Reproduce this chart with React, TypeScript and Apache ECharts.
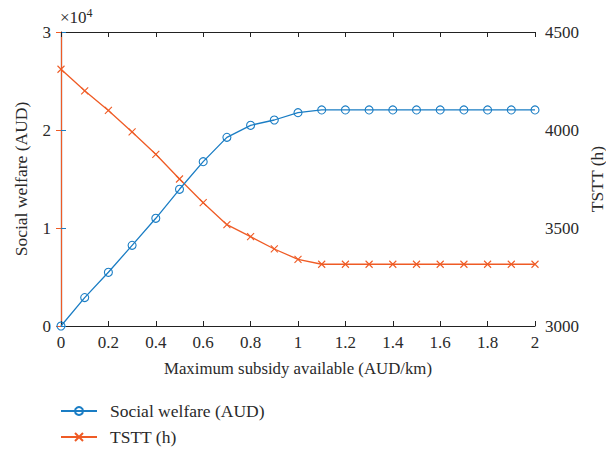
import React, { useEffect, useRef } from "react";
import * as echarts from "echarts";

const subsidy = [0, 0.1, 0.2, 0.3, 0.4, 0.5, 0.6, 0.7, 0.8, 0.9, 1.0, 1.1, 1.2, 1.3, 1.4, 1.5, 1.6, 1.7, 1.8, 1.9, 2.0];
const welfare = [0, 2900, 5480, 8230, 10990, 13950, 16770, 19250, 20480, 21020, 21770, 22050, 22050, 22050, 22050, 22050, 22050, 22050, 22050, 22050, 22050];
const tstt = [4310, 4200, 4100, 3990, 3876, 3750, 3629, 3517, 3456, 3393, 3340, 3315, 3315, 3315, 3315, 3315, 3315, 3315, 3315, 3315, 3315];

const BLUE = "#1A7DC4";
const ORANGE = "#EF5B25";
const FONT = "'Liberation Serif', 'DejaVu Serif', serif";
const TXT = "#2a2a2a";

export default function App() {
  const ref = useRef<HTMLDivElement>(null);
  useEffect(() => {
    const chart = echarts.init(ref.current!, null, { renderer: "svg" });
    const tickStyle = { fontFamily: FONT, fontSize: 17, color: TXT };
    const nameStyle = { fontFamily: FONT, fontSize: 17.5, color: TXT };
    const legendBase = {
      orient: "horizontal",
      left: 60,
      padding: 0,
      itemWidth: 36,
      itemHeight: 10,
      textStyle: { fontFamily: FONT, fontSize: 17.5, color: TXT, padding: [0, 0, 0, 8] },
    };
    chart.setOption({
      animation: false,
      backgroundColor: "#fff",
      textStyle: { fontFamily: FONT },
      grid: { left: 61, right: 71, top: 32, bottom: 123, containLabel: false, outerBoundsMode: "none" },
      graphic: [
        {
          type: "text",
          left: 60,
          top: 7,
          style: {
            text: "{a|×10}{b|4}",
            rich: {
              a: { fontFamily: FONT, fontSize: 17, fill: TXT },
              b: { fontFamily: FONT, fontSize: 12, fill: TXT, verticalAlign: "top", padding: [0, 0, 9, 0] },
            },
          },
        },
      ],
      legend: [
        { ...legendBase, top: 402, data: ["Social welfare (AUD)"] },
        { ...legendBase, top: 428, data: ["TSTT (h)"] },
      ],
      xAxis: [
        {
          type: "value",
          min: 0,
          max: 2,
          interval: 0.2,
          name: "Maximum subsidy available (AUD/km)",
          nameLocation: "middle",
          nameGap: 34,
          nameTextStyle: { ...nameStyle, fontSize: 16.8 },
          axisLine: { show: true, lineStyle: { color: "#222", width: 1.2 } },
          axisTick: { show: true, inside: true, length: 5, lineStyle: { color: "#222" } },
          axisLabel: { ...tickStyle, margin: 8 },
          splitLine: { show: false },
        },
        {
          type: "value",
          position: "top",
          min: 0,
          max: 2,
          interval: 0.2,
          axisLine: { show: true, lineStyle: { color: "#222", width: 1.2 } },
          axisTick: { show: true, inside: true, length: 5, lineStyle: { color: "#222" } },
          axisLabel: { show: false },
          splitLine: { show: false },
        },
      ],
      yAxis: [
        {
          type: "value",
          position: "left",
          min: 0,
          max: 30000,
          interval: 10000,
          name: "Social welfare (AUD)",
          nameLocation: "middle",
          nameGap: 31,
          nameRotate: 90,
          nameMoveOverlap: false,
          nameTextStyle: nameStyle,
          axisLine: { show: true, lineStyle: { color: BLUE, width: 1.2 } },
          axisTick: { show: true, inside: true, length: 5, lineStyle: { color: BLUE } },
          axisLabel: { ...tickStyle, margin: 10, formatter: (v: number) => String(v / 10000) },
          splitLine: { show: false },
        },
        {
          type: "value",
          position: "right",
          min: 3000,
          max: 4500,
          interval: 500,
          name: "TSTT (h)",
          nameLocation: "middle",
          nameGap: 53,
          nameRotate: 90,
          nameMoveOverlap: false,
          nameTextStyle: nameStyle,
          axisLine: { show: true, lineStyle: { color: ORANGE, width: 1.2 } },
          axisTick: { show: true, inside: true, length: 5, lineStyle: { color: ORANGE } },
          axisLabel: { ...tickStyle, margin: 10, formatter: (v: number) => String(v) },
          splitLine: { show: false },
        },
      ],
      series: [
        {
          name: "Social welfare (AUD)",
          type: "line",
          xAxisIndex: 0,
          yAxisIndex: 0,
          data: subsidy.map((x, i) => [x, welfare[i]]),
          symbol: "circle",
          symbolSize: 8,
          showAllSymbol: true,
          lineStyle: { color: BLUE, width: 1.3 },
          itemStyle: { color: "none", borderColor: BLUE, borderWidth: 1.1 },
          z: 3,
        },
        {
          name: "TSTT (h)",
          type: "line",
          xAxisIndex: 0,
          yAxisIndex: 1,
          data: subsidy.map((x, i) => [x, tstt[i]]),
          symbol: "path://M0,0L10,10M10,0L0,10",
          symbolSize: 7,
          showAllSymbol: true,
          lineStyle: { color: ORANGE, width: 1.3 },
          itemStyle: { color: "none", borderColor: ORANGE, borderWidth: 1.1 },
          z: 2,
        },
      ],
    });
    return () => chart.dispose();
  }, []);
  return <div ref={ref} style={{ width: 606, height: 449, position: "absolute", left: 0, top: 0 }} />;
}
